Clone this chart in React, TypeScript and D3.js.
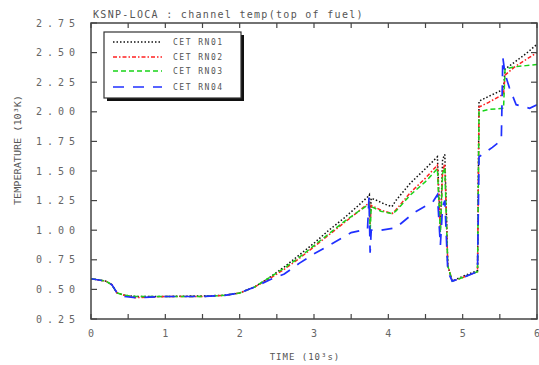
import React from "react";
import * as d3 from "d3";

// time in 10^3 s, temperature in 10^3 K
const rn01: [number, number][] = [
  [0, 0.59], [0.2, 0.57], [0.28, 0.54], [0.35, 0.47], [0.45, 0.45], [0.6, 0.44],
  [1.0, 0.44], [1.5, 0.445], [1.8, 0.45], [2.0, 0.47], [2.2, 0.52], [2.4, 0.6],
  [2.6, 0.69], [2.8, 0.79], [3.0, 0.89], [3.2, 1.0], [3.4, 1.1], [3.6, 1.21],
  [3.72, 1.28], [3.745, 1.3], [3.755, 1.1], [3.77, 1.27], [3.85, 1.25], [3.95, 1.22],
  [4.05, 1.2], [4.1, 1.25], [4.3, 1.4], [4.5, 1.52], [4.66, 1.62], [4.7, 1.0],
  [4.73, 1.6], [4.76, 1.64], [4.8, 0.7], [4.86, 0.57], [5.0, 0.61], [5.2, 0.66],
  [5.22, 2.09], [5.35, 2.13], [5.55, 2.19], [5.57, 2.36], [5.7, 2.42], [5.85, 2.49], [6.0, 2.57],
];
const rn02: [number, number][] = [
  [0, 0.59], [0.2, 0.57], [0.28, 0.54], [0.35, 0.47], [0.45, 0.45], [0.6, 0.43],
  [1.0, 0.44], [1.5, 0.44], [1.8, 0.45], [2.0, 0.47], [2.2, 0.52], [2.4, 0.59],
  [2.6, 0.67], [2.8, 0.76], [3.0, 0.86], [3.2, 0.96], [3.4, 1.06], [3.6, 1.16],
  [3.72, 1.22], [3.745, 1.23], [3.755, 1.05], [3.77, 1.21], [3.9, 1.17], [4.05, 1.14],
  [4.1, 1.17], [4.3, 1.32], [4.5, 1.44], [4.66, 1.55], [4.7, 1.0], [4.73, 1.5],
  [4.76, 1.56], [4.8, 0.7], [4.86, 0.57], [5.0, 0.6], [5.2, 0.65],
  [5.22, 2.04], [5.35, 2.08], [5.55, 2.15], [5.57, 2.31], [5.7, 2.38], [5.85, 2.44], [6.0, 2.5],
];
const rn03: [number, number][] = [
  [0, 0.59], [0.2, 0.57], [0.28, 0.54], [0.35, 0.47], [0.45, 0.45], [0.6, 0.44],
  [1.0, 0.44], [1.5, 0.44], [1.8, 0.45], [2.0, 0.47], [2.2, 0.52], [2.4, 0.6],
  [2.6, 0.68], [2.8, 0.77], [3.0, 0.87], [3.2, 0.97], [3.4, 1.07], [3.6, 1.16],
  [3.72, 1.21], [3.745, 1.22], [3.755, 0.98], [3.77, 1.2], [3.9, 1.16], [4.05, 1.14],
  [4.1, 1.16], [4.3, 1.3], [4.5, 1.41], [4.66, 1.52], [4.7, 0.98], [4.73, 1.48],
  [4.76, 1.53], [4.8, 0.7], [4.86, 0.57], [5.0, 0.6], [5.2, 0.65],
  [5.22, 2.0], [5.35, 2.02], [5.55, 2.03], [5.57, 2.36], [5.7, 2.38], [5.85, 2.39], [6.0, 2.4],
];
const rn04: [number, number][] = [
  [0, 0.59], [0.2, 0.57], [0.28, 0.54], [0.35, 0.47], [0.45, 0.44], [0.6, 0.43],
  [1.0, 0.44], [1.5, 0.44], [1.8, 0.45], [2.0, 0.47], [2.2, 0.52], [2.4, 0.58],
  [2.6, 0.63], [2.8, 0.72], [3.0, 0.8], [3.2, 0.87], [3.5, 0.98], [3.72, 1.01],
  [3.74, 1.28], [3.755, 0.81], [3.77, 1.0], [3.9, 1.0], [4.1, 1.02], [4.35, 1.15],
  [4.6, 1.24], [4.66, 1.3], [4.7, 0.87], [4.73, 1.2], [4.76, 1.25], [4.8, 0.65],
  [4.86, 0.57], [5.0, 0.6], [5.2, 0.65], [5.22, 1.62], [5.4, 1.7], [5.52, 1.76],
  [5.54, 2.46], [5.57, 2.32], [5.63, 2.2], [5.72, 2.06], [5.9, 2.03], [6.0, 2.06],
];

const seriesNames = ["CET RN01", "CET RN02", "CET RN03", "CET RN04"];
const seriesData = [rn01, rn02, rn03, rn04];
const seriesColors = ["#111111", "#ff2020", "#19d419", "#2030ff"];
const seriesDash = ["1.5,2", "4,2,1.5,2", "5,3", "11,9"];

const yTicks = [0.25, 0.5, 0.75, 1.0, 1.25, 1.5, 1.75, 2.0, 2.25, 2.5, 2.75];
const xTicks = [0, 1, 2, 3, 4, 5, 6];
const xMinor = [0, 0.5, 1, 1.5, 2, 2.5, 3, 3.5, 4, 4.5, 5, 5.5, 6];

const W = 539;
const H = 365;

export default function App() {
  const x = d3.scaleLinear().domain([0, 6]).range([91, 537]);
  const y = d3.scaleLinear().domain([0.25, 2.75]).range([319, 23]);
  const line = d3
    .line<[number, number]>()
    .x((d) => x(d[0]))
    .y((d) => y(d[1]));

  const mono = "'DejaVu Sans Mono', monospace";
  const tickFill = "#666";

  return (
    <svg
      width={W}
      height={H}
      style={{ position: "absolute", left: 0, top: 0, background: "#fff" }}
    >
      <defs>
        <clipPath id="plot">
          <rect x={x(0)} y={y(2.75)} width={x(6) - x(0)} height={y(0.25) - y(2.75)} />
        </clipPath>
      </defs>

      {/* title */}
      <text x={93} y={18} fontFamily={mono} fontSize={10} fill="#555" letterSpacing={1.3}>
        KSNP-LOCA : channel temp(top of fuel)
      </text>

      {/* curves */}
      <g clipPath="url(#plot)">
        {seriesData.map((s, i) => (
          <path
            key={i}
            d={line(s) || ""}
            fill="none"
            stroke={seriesColors[i]}
            strokeWidth={i === 3 ? 1.7 : 1.5}
            strokeDasharray={seriesDash[i]}
          />
        ))}
      </g>

      {/* frame */}
      <rect
        x={x(0)}
        y={y(2.75)}
        width={x(6) - x(0)}
        height={y(0.25) - y(2.75)}
        fill="none"
        stroke="#444"
        strokeWidth={1.5}
      />

      {/* y ticks */}
      {yTicks.map((t) => (
        <g key={t}>
          <line x1={x(0)} x2={x(0) + 6} y1={y(t)} y2={y(t)} stroke="#444" strokeWidth={1.2} />
          <line x1={x(6)} x2={x(6) - 6} y1={y(t)} y2={y(t)} stroke="#444" strokeWidth={1.2} />
          <text
            x={80}
            y={y(t) + 3.5}
            textAnchor="end"
            fontFamily={mono}
            fontSize={10}
            fill={tickFill}
            letterSpacing={5}
          >
            {t.toFixed(2)}
          </text>
        </g>
      ))}

      {/* x ticks */}
      {xMinor.map((t) => (
        <g key={t}>
          <line x1={x(t)} x2={x(t)} y1={y(0.25)} y2={y(0.25) - 5} stroke="#444" strokeWidth={1.2} />
          <line x1={x(t)} x2={x(t)} y1={y(2.75)} y2={y(2.75) + 5} stroke="#444" strokeWidth={1.2} />
        </g>
      ))}
      {xTicks.map((t) => (
        <text
          key={t}
          x={x(t)}
          y={337}
          textAnchor="middle"
          fontFamily={mono}
          fontSize={10}
          fill={tickFill}
        >
          {t}
        </text>
      ))}

      {/* axis titles */}
      <text x={305} y={360} textAnchor="middle" fontFamily={mono} fontSize={9} fill="#555" letterSpacing={1}>
        TIME (10³s)
      </text>
      <text
        transform={`translate(21,150) rotate(-90)`}
        textAnchor="middle"
        fontFamily={mono}
        fontSize={9}
        fill="#555"
        textLength={110}
        lengthAdjust="spacingAndGlyphs"
      >
        TEMPERATURE (10³K)
      </text>

      {/* legend */}
      <g>
        <rect x={107} y={35} width={137} height={66} fill="#111" />
        <rect x={104} y={32} width={137} height={66} fill="#fff" stroke="#333" strokeWidth={1.2} />
        {seriesNames.map((n, i) => {
          const ly = [42, 57, 71, 87][i];
          return (
            <g key={n}>
              <line
                x1={113}
                x2={162}
                y1={ly}
                y2={ly}
                stroke={seriesColors[i]}
                strokeWidth={i === 3 ? 1.7 : 1.5}
                strokeDasharray={seriesDash[i]}
              />
              <text x={173} y={ly + 3} fontFamily={mono} fontSize={8} fill="#555" letterSpacing={1.5}>
                {n}
              </text>
            </g>
          );
        })}
      </g>
    </svg>
  );
}
